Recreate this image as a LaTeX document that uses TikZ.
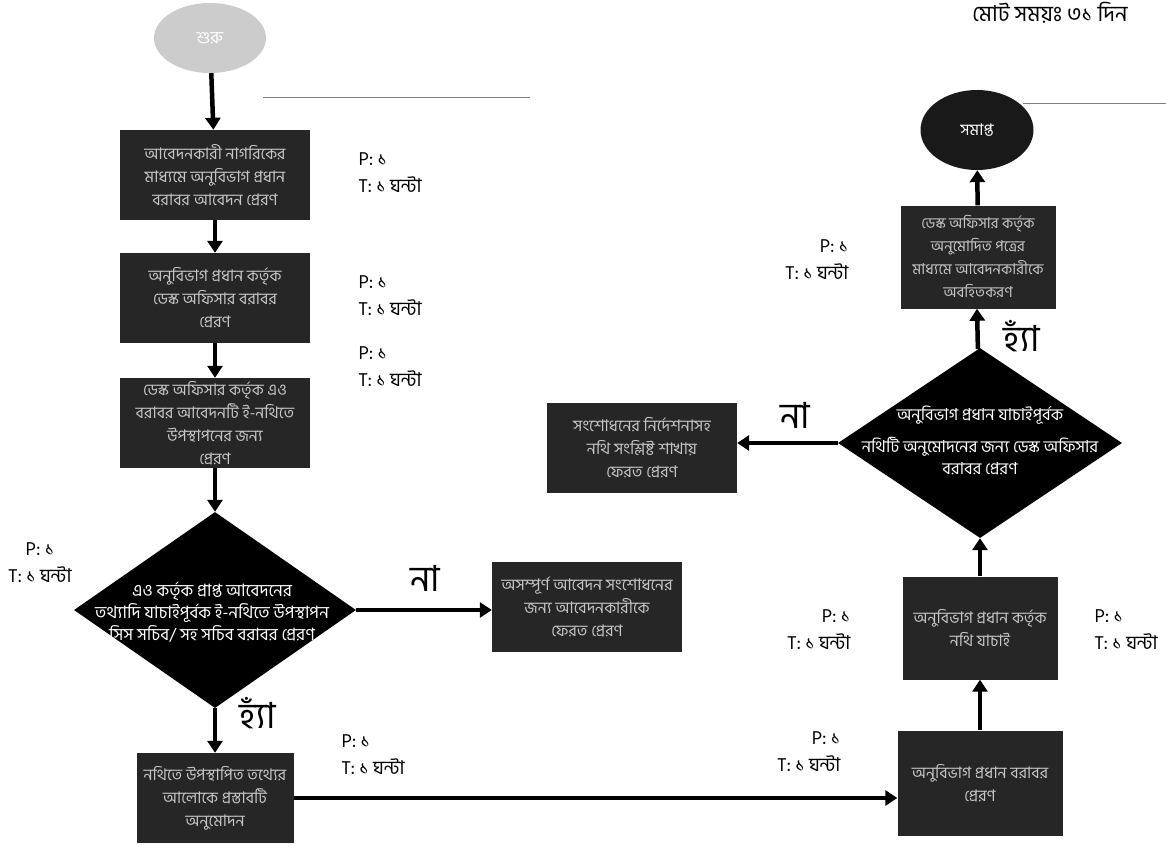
\documentclass[tikz,border=0pt]{standalone}
\usepackage{fontspec}
\setmainfont[Script=Bengali]{Hind Siliguri}
\usetikzlibrary{shapes,arrows.meta,positioning,calc}

\begin{document}
\begin{tikzpicture}[x=1pt, y=-1pt,
        darkbox/.style={fill=black!85, text=gray!45, align=center, minimum height=90, inner sep=2pt, font=\fontsize{16}{23}\selectfont},
        decision/.style={diamond, fill=black, minimum width=282, minimum height=196, inner sep=0pt},
        dtext/.style={text=white, align=center, font=\fontsize{17}{22}\selectfont},
        ptlabel/.style={font=\fontsize{19}{27}\selectfont},
        yesno/.style={font=\fontsize{36}{36}\selectfont},
        flow/.style={-{Triangle[width=15pt,length=12pt]}, line width=4.5pt}]
        \useasboundingbox (0,0) rectangle (1166,846);
        \clip (0,0) rectangle (1166,846);

        % Start / end
        \node[ellipse, fill=gray!40, text=white, minimum width=112, minimum height=70, font=\fontsize{17}{18}\selectfont] (start) at (210,38) {শুরু};
        \node[ellipse, fill=black!90, text=white, minimum width=113, minimum height=80, font=\fontsize{16}{18}\selectfont] (finish) at (977,130) {সমাপ্ত};
        \node[font=\fontsize{22}{24}\selectfont, anchor=north, inner sep=1pt] (total) at (1050,1) {মোট সময়ঃ ৩১ দিন};

        % Left column
        \node[darkbox, minimum width=190] (apply) at (215,175) {আবেদনকারী নাগরিকের\\মাধ্যমে অনুবিভাগ প্রধান\\বরাবর আবেদন প্রেরণ};
        \node[darkbox, minimum width=190] (forward) at (215,298) {অনুবিভাগ প্রধান কর্তৃক\\ডেস্ক অফিসার বরাবর\\প্রেরণ};
        \node[darkbox, minimum width=190] (desk) at (215,423) {ডেস্ক অফিসার কর্তৃক এও\\বরাবর আবেদনটি ই-নথিতে\\উপস্থাপনের জন্য\\প্রেরণ};
        \node[decision] (check) at (215,610) {};
        \node[dtext] (checktext) at (212,612) {এও কর্তৃক প্রাপ্ত আবেদনের\\তথ্যাদি যাচাইপূর্বক ই-নথিতে উপস্থাপন\\সিস সচিব/ সহ সচিব বরাবর প্রেরণ};
        \node[darkbox, minimum width=190] (return1) at (587,607) {অসম্পূর্ণ আবেদন সংশোধনের\\জন্য আবেদনকারীকে\\ফেরত প্রেরণ};
        \node[darkbox, minimum width=157] (approve) at (215,798) {নথিতে উপস্থাপিত তথ্যের\\আলোকে প্রস্তাবটি\\অনুমোদন};

        % Right column
        \node[darkbox, minimum width=165, minimum height=105] (head) at (980,783) {অনুবিভাগ প্রধান বরাবর\\প্রেরণ};
        \node[darkbox, minimum width=155, minimum height=103] (review) at (980,628) {অনুবিভাগ প্রধান কর্তৃক\\নথি যাচাই};
        \node[decision, minimum width=284, minimum height=190] (final) at (980,443) {};
        \node[dtext, font=\fontsize{16.5}{22}\selectfont] (finaltext) at (980,440) {অনুবিভাগ প্রধান যাচাইপূর্বক\\[10pt]নথিটি অনুমোদনের জন্য ডেস্ক অফিসার\\বরাবর প্রেরণ};
        \node[darkbox, minimum width=190] (return2) at (642,448) {সংশোধনের নির্দেশনাসহ\\নথি সংশ্লিষ্ট শাখায়\\ফেরত প্রেরণ};
        \node[darkbox, minimum width=155, minimum height=103, font=\fontsize{15}{23}\selectfont] (inform) at (978,257) {ডেস্ক অফিসার কর্তৃক\\অনুমোদিত পত্রের\\মাধ্যমে আবেদনকারীকে\\অবহিতকরণ};

        % Flow
        \draw[flow] (start) -- (apply);
        \draw[flow] (apply) -- (forward);
        \draw[flow] (forward) -- (desk);
        \draw[flow] (desk) -- (check);
        \draw[flow] (check.east) -- (check.east -| return1.west);
        \draw[flow] (check) -- (approve);
        \draw[flow] (approve.east) -- (approve.east -| head.west);
        \draw[flow] (head) -- (review);
        \draw[flow] (review) -- (final);
        \draw[flow] (final.west) -- (final.west -| return2.east);
        \draw[flow] (final) -- (finish |- inform.south);
        \draw[flow] (inform) -- (finish);

        % Yes / no
        \node[yesno] (no1) at (425,578) {না};
        \node[yesno] (yes1) at (258,713) {হ্যাঁ};
        \node[yesno] (no2) at (795,415) {না};
        \node[yesno] (yes2) at (1022,336) {হ্যাঁ};

        % P / T
        \node[ptlabel, anchor=west, align=left] (pt1) at (355,173) {P: ১\\T: ১ ঘন্টা};
        \node[ptlabel, anchor=west, align=left] (pt2) at (355,296) {P: ১\\T: ১ ঘন্টা};
        \node[ptlabel, anchor=west, align=left] (pt3) at (355,367) {P: ১\\T: ১ ঘন্টা};
        \node[ptlabel, align=center] (pt4) at (40,563) {P: ১\\T: ১ ঘন্টা};
        \node[ptlabel, anchor=west, align=left] (pt5) at (338,755) {P: ১\\T: ১ ঘন্টা};
        \node[ptlabel, anchor=east, align=right] (pt6) at (844,752) {P: ১\\T: ১ ঘন্টা};
        \node[ptlabel, anchor=east, align=right] (pt7) at (854,630) {P: ১\\T: ১ ঘন্টা};
        \node[ptlabel, anchor=west, align=left] (pt8) at (1091,630) {P: ১\\T: ১ ঘন্টা};
        \node[ptlabel, anchor=east, align=right] (pt9) at (852,260) {P: ১\\T: ১ ঘন্টা};

        % Rules
        \draw[gray, thin] (263,97) -- (530,97);
        \draw[gray, thin] (1023,103) -- (1166,103);
    \end{tikzpicture}
\end{document}
